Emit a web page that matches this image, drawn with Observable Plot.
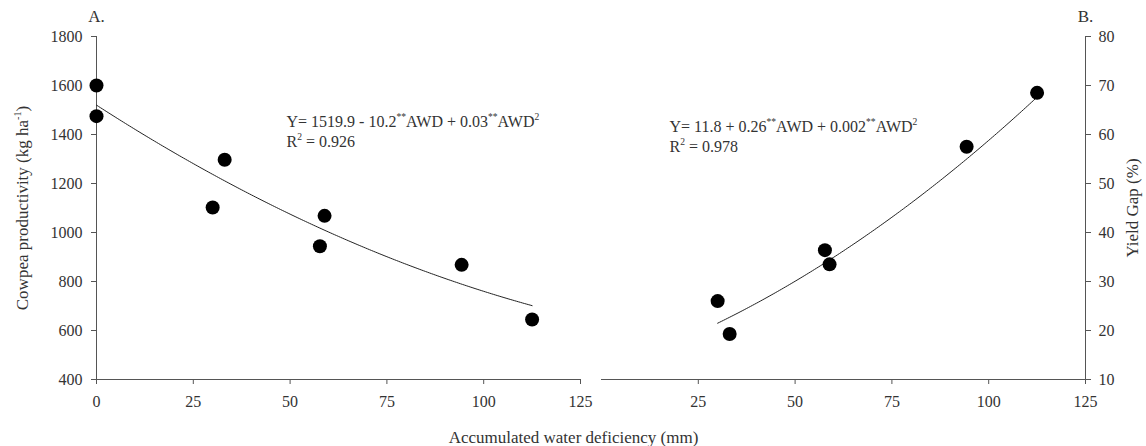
<!DOCTYPE html>
<html>
<head>
<meta charset="utf-8">
<script src="https://cdn.jsdelivr.net/npm/d3@7"></script>
<script src="https://cdn.jsdelivr.net/npm/@observablehq/plot@0.6"></script>
<style>
  html, body { margin: 0; padding: 0; background: #fff; }
  #wrap { position: relative; width: 1146px; height: 446px; overflow: hidden; }
  #wrap svg { position: absolute; top: 0; overflow: visible; max-width: none; }
</style>
</head>
<body>
<div id="wrap"></div>
<script>
// ---------------- data ----------------
// Panel A: cowpea productivity vs accumulated water deficiency (AWD)
const awdA  = [0, 0, 30.0, 33.1, 57.7, 58.9, 94.3, 112.5];
const prodA = [1600, 1475, 1102, 1297, 944, 1068, 868, 645];
// Panel B: yield gap vs AWD
const awdB  = [30.0, 33.1, 57.7, 58.9, 94.3, 112.5];
const gapB  = [26.0, 19.3, 36.4, 33.5, 57.5, 68.5];

// quadratic regression coefficients [b0, b1, b2] and fitted AWD range
const coefA  = [1519.9, -10.2, 0.026];
const rangeA = [0, 112.5];
const coefB  = [11.8, 0.26, 0.0021];
const rangeB = [30, 112.5];

// tick labels
const xTicksA = [0, 25, 50, 75, 100, 125];
const xTicksB = [25, 50, 75, 100, 125];
const yTicksA = [400, 600, 800, 1000, 1200, 1400, 1600, 1800];
const yTicksB = [10, 20, 30, 40, 50, 60, 70, 80];

// texts
const panelA = ["A."];
const panelB = ["B."];
const eqA = ["Y= 1519.9 - 10.2^{**}AWD + 0.03^{**}AWD^{2}", "R^{2} = 0.926"];
const eqB = ["Y= 11.8 + 0.26^{**}AWD + 0.002^{**}AWD^{2}", "R^{2} = 0.978"];
const yTitleA = ["Cowpea productivity (kg ha^{-1})"];
const yTitleB = ["Yield Gap (%)"];
const xTitle  = ["Accumulated water deficiency (mm)"];

// ---------------- helpers ----------------
const ptsA = awdA.map((x, i) => ({x, y: prodA[i]}));
const ptsB = awdB.map((x, i) => ({x, y: gapB[i]}));
const fit = (c, r) => d3.range(r[0], r[1] + 1e-9, 0.5).map(x => ({x, y: c[0] + c[1] * x + c[2] * x * x}));
const curveA = fit(coefA, rangeA);
const curveB = fit(coefB, rangeB);

const FONT = "Liberation Serif, Times New Roman, serif";
const INK = "#333";
const LINE = "#555";
const TICK_FS = 16, EQ_FS = 16, TITLE_FS = 17;

function richify(svg) {
  d3.select(svg).selectAll("text").each(function() {
    const s = this.textContent;
    if (!s.includes("^{")) return;
    const el = d3.select(this);
    const fs = parseFloat(getComputedStyle(this).fontSize) || 14;
    el.text(null);
    const parts = s.split(/(\^\{[^}]*\})/).filter(p => p.length);
    let raised = false;
    for (const p of parts) {
      const m = p.match(/^\^\{([^}]*)\}$/);
      if (m) {
        el.append("tspan").attr("dy", raised ? 0 : -fs * 0.4).attr("font-size", fs * 0.6).text(m[1]);
        raised = true;
      } else {
        el.append("tspan").attr("dy", raised ? fs * 0.4 : 0).text(p);
        raised = false;
      }
    }
  });
}

const fmt = d => String(d);

// ---------------- panel A ----------------
const plotA = Plot.plot({
  width: 600, height: 446,
  marginLeft: 96, marginRight: 20, marginTop: 36, marginBottom: 67,
  style: {fontFamily: FONT, fontSize: TICK_FS + "px", color: INK, background: "none", overflow: "visible"},
  x: {domain: [0, 125]},
  y: {domain: [400, 1800]},
  marks: [
    Plot.axisX({ticks: xTicksA, tickFormat: fmt, tickSize: 5, tickPadding: 11, label: null, stroke: LINE}),
    Plot.axisY({ticks: yTicksA, tickFormat: fmt, tickSize: 5, tickPadding: 9, label: null, stroke: LINE}),
    Plot.ruleX([0], {y1: 400, y2: 1800, stroke: LINE}),
    Plot.ruleY([400], {x1: 0, x2: 125, stroke: LINE}),
    Plot.line(curveA, {x: "x", y: "y", stroke: "#222", strokeWidth: 1}),
    Plot.dot(ptsA, {x: "x", y: "y", r: 7, fill: "#000", stroke: "none"}),
    Plot.text(panelA, {frameAnchor: "top-left", text: d => d, textAnchor: "middle", lineAnchor: "middle", dy: -20, fontSize: TITLE_FS, fill: INK}),
    Plot.text([eqA[0]], {frameAnchor: "top-left", text: d => d, textAnchor: "start", lineAnchor: "middle", dx: 190, dy: 85, fontSize: EQ_FS, fill: INK}),
    Plot.text([eqA[1]], {frameAnchor: "top-left", text: d => d, textAnchor: "start", lineAnchor: "middle", dx: 190, dy: 105, fontSize: EQ_FS, fill: INK}),
    Plot.text(yTitleA, {frameAnchor: "left", text: d => d, rotate: -90, textAnchor: "middle", dx: -74, fontSize: TITLE_FS, fill: INK}),
    Plot.text(xTitle, {frameAnchor: "bottom-right", text: d => d, textAnchor: "middle", lineAnchor: "middle", dx: -7, dy: 58, fontSize: TITLE_FS, fill: INK})
  ]
});

// ---------------- panel B ----------------
const plotB = Plot.plot({
  width: 566, height: 446,
  marginLeft: 21, marginRight: 61, marginTop: 36, marginBottom: 67,
  style: {fontFamily: FONT, fontSize: TICK_FS + "px", color: INK, background: "none", overflow: "visible"},
  x: {domain: [0, 125]},
  y: {domain: [10, 80]},
  marks: [
    Plot.axisX({ticks: xTicksB, tickFormat: fmt, tickSize: 5, tickPadding: 11, label: null, stroke: LINE}),
    Plot.axisY({anchor: "right", ticks: yTicksB, tickFormat: fmt, tickSize: 5, tickPadding: 8, label: null, stroke: LINE}),
    Plot.ruleX([125], {y1: 10, y2: 80, stroke: LINE}),
    Plot.ruleY([10], {x1: 0, x2: 125, stroke: LINE}),
    Plot.line(curveB, {x: "x", y: "y", stroke: "#222", strokeWidth: 1}),
    Plot.dot(ptsB, {x: "x", y: "y", r: 7, fill: "#000", stroke: "none"}),
    Plot.text(panelB, {frameAnchor: "top-right", text: d => d, textAnchor: "middle", lineAnchor: "middle", dy: -20, fontSize: TITLE_FS, fill: INK}),
    Plot.text([eqB[0]], {frameAnchor: "top-left", text: d => d, textAnchor: "start", lineAnchor: "middle", dx: 68, dy: 90, fontSize: EQ_FS, fill: INK}),
    Plot.text([eqB[1]], {frameAnchor: "top-left", text: d => d, textAnchor: "start", lineAnchor: "middle", dx: 68, dy: 110, fontSize: EQ_FS, fill: INK}),
    Plot.text(yTitleB, {frameAnchor: "right", text: d => d, rotate: -90, textAnchor: "middle", dx: 47, fontSize: TITLE_FS, fill: INK})
  ]
});

const wrap = document.getElementById("wrap");
plotA.style.left = "0px";
plotB.style.left = "580px";
wrap.appendChild(plotA);
wrap.appendChild(plotB);
richify(plotA);
richify(plotB);
</script>
</body>
</html>
